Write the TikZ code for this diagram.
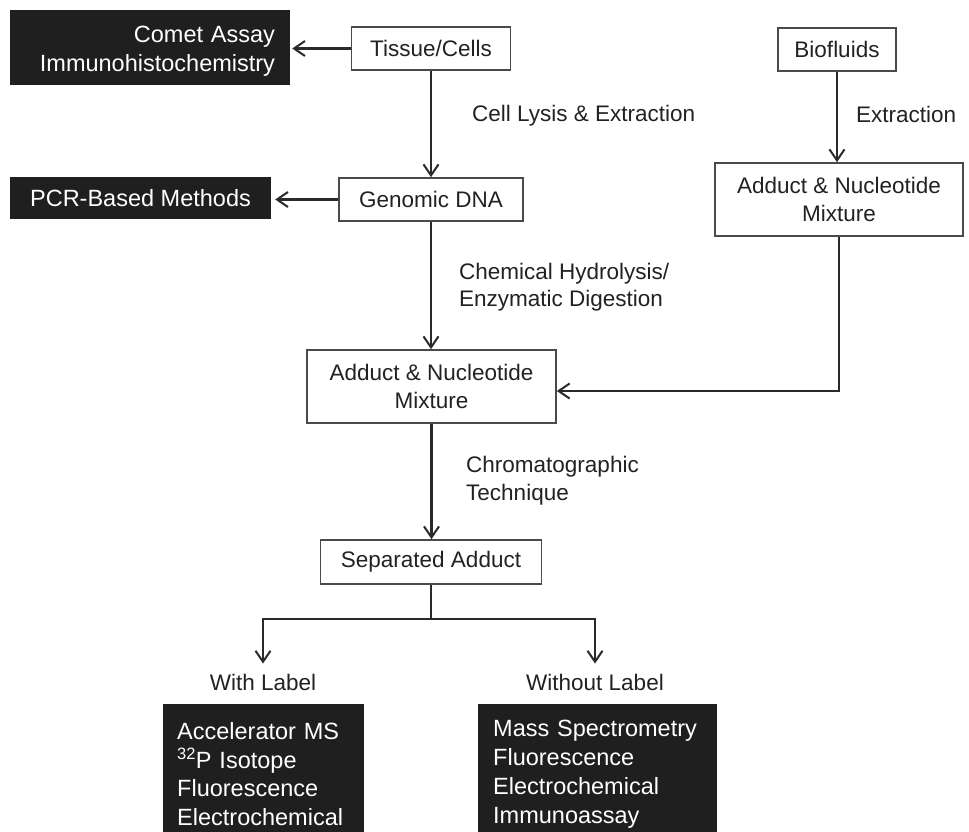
\documentclass[tikz,border=0pt]{standalone}
\usepackage{fontspec}
\setmainfont{Liberation Sans}
\usetikzlibrary{arrows.meta,calc}
\definecolor{ink}{HTML}{222222}
\definecolor{edge}{HTML}{2A2A2A}
\tikzset{
  wbox/.style={draw=edge!85,line width=1.7pt,fill=white,text=ink,inner sep=0pt,
    font=\fontsize{22.5}{27.5}\selectfont,align=center},
  bbox/.style={fill=black!88,text=white,inner sep=0pt,
    font=\fontsize{23.5}{28.7}\selectfont},
  lbl/.style={text=ink,inner sep=0pt,font=\fontsize{22.5}{27.5}\selectfont,align=left},
  arr/.style={draw=edge,line width=2.2pt,-{Straight Barb[length=11pt,width=15pt,line width=2pt]}},
  ln/.style={draw=edge,line width=2.2pt}
}
\begin{document}
\begin{tikzpicture}[x=1pt,y=-1pt]
\useasboundingbox[fill=white] (0,0) rectangle (969,831);
% boxes
\node[bbox,minimum width=280pt,minimum height=75pt,text width=250pt,align=right] (comet) at (150,47.5) {\raisebox{-4pt}[\height][\depth]{\begin{tabular}{@{}r@{}}Comet Assay\\Immunohistochemistry\end{tabular}}};
\node[wbox,minimum width=159pt,minimum height=43pt] (tissue) at (431,48.5) {Tissue/Cells};
\node[wbox,minimum width=118pt,minimum height=43pt] (bio) at (837,49.5) {Biofluids};
\node[bbox,minimum width=261pt,minimum height=42pt] (pcr) at (140.5,198) {PCR-Based Methods};
\node[wbox,minimum width=184pt,minimum height=43pt] (gdna) at (431,199.5) {Genomic DNA};
\node[wbox,minimum width=248pt,minimum height=73pt] (radd) at (839,199.5) {Adduct \& Nucleotide\\Mixture};
\node[wbox,minimum width=249pt,minimum height=73pt] (madd) at (431.5,386.5) {Adduct \& Nucleotide\\Mixture};
\node[wbox,minimum width=221pt,minimum height=44pt] (sep) at (431,562) {Separated Adduct};
\node[lbl,anchor=center] (withl) at (263,682) {With Label};
\node[lbl,anchor=center] (wol) at (595,682) {Without Label};
\node[bbox,anchor=north west,minimum width=201pt,minimum height=140pt,text width=173pt,align=left,inner xsep=14pt,inner ysep=6pt] (lres) at (163,704) {Accelerator MS\\\textsuperscript{32}P Isotope\\Fluorescence\\Electrochemical};
\node[bbox,anchor=north west,minimum width=239pt,minimum height=140pt,text width=209pt,align=left,inner xsep=15pt,inner ysep=6pt] (rres) at (478,704) {Mass Spectrometry\\Fluorescence\\Electrochemical\\Immunoassay};
% labels
\node[lbl,anchor=west] (l1) at (472,115.5) {Cell Lysis \& Extraction};
\node[lbl,anchor=west] (l2) at (856,114) {Extraction};
\node[lbl,anchor=west] (l3) at (459,287) {Chemical Hydrolysis/\\Enzymatic Digestion};
\node[lbl,anchor=west] (l4) at (466,480.5) {Chromatographic\\Technique};
% connectors
\draw[arr,shorten >=2pt] (tissue.west) -- (tissue.west -| comet.east);
\draw[arr,shorten >=4pt] (gdna.west) -- (gdna.west -| pcr.east);
\draw[arr] (tissue.south) -- (gdna.north);
\draw[arr] (gdna.south) -- (gdna.south |- madd.north);
\draw[arr] (bio.south) -- (bio.south |- radd.north);
\draw[arr] (radd.south) |- ([yshift=-4.5pt]madd.east);
\draw[arr] (madd.south) -- (madd.south |- sep.north);
\coordinate (split) at ($(sep.south)+(0,34)$);
\draw[ln] (sep.south) -- (split);
\draw[arr] (split) -| ($(withl.north)+(0,-10)$);
\draw[arr] (split) -| ($(wol.north)+(0,-10)$);
\end{tikzpicture}
\end{document}
